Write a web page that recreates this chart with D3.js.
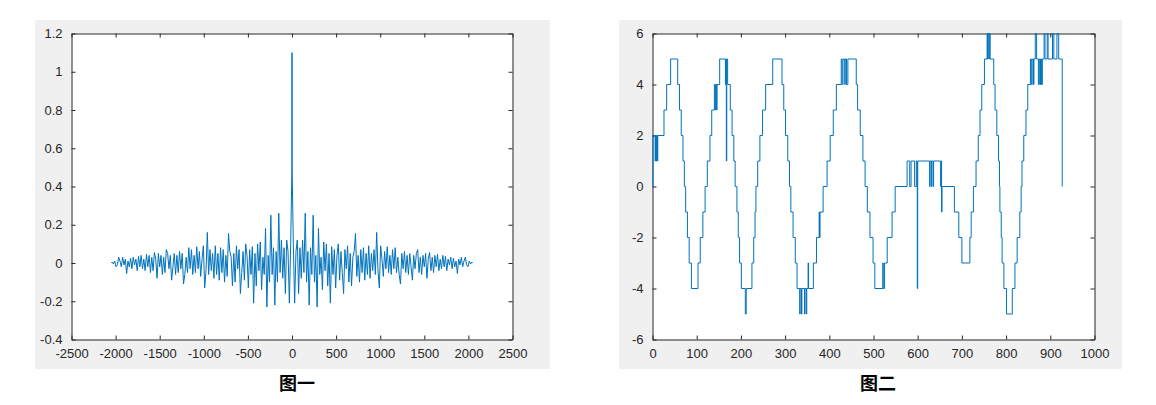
<!DOCTYPE html>
<html><head><meta charset="utf-8">
<script src="https://cdn.jsdelivr.net/npm/d3@7"></script>
<style>
body{margin:0;background:#fff;}
svg text{font-family:"Liberation Sans",Arial,sans-serif;}
</style>
</head><body>
<svg id="c" width="1156" height="405"></svg>
<script>
// ---------- Figure 1 data (autocorrelation, symmetric about lag 0) ----------
const corrStep = 15;          // lag spacing of corrPositive
const corrCenter = 1.1;       // value at lag 0
const corrNearLag = 1;
const corrNearValue = 0.5;
const corrEndLag = 2047;
const corrEndValue = 0.0;
const corrPositive = [
  0.10,-0.21,0.06,0.12,-0.16,0.08,-0.08,0.12,-0.05,0.26,
  -0.10,0.06,-0.22,0.08,-0.06,0.25,-0.10,0.04,-0.23,0.18,
  -0.06,0.03,-0.14,0.11,-0.04,0.10,-0.12,0.05,-0.21,0.085,
  -0.06,0.07,-0.13,0.04,0.10,-0.09,0.06,-0.05,-0.16,0.07,
  -0.03,0.09,-0.10,0.05,-0.12,0.03,0.06,0.155,-0.07,0.04,
  -0.10,0.07,-0.05,0.08,-0.09,0.05,-0.06,0.09,-0.08,0.05,
  -0.04,0.07,-0.06,0.16,-0.04,-0.13,0.09,0.02,-0.07,0.06,
  -0.03,0.085,-0.05,0.04,-0.06,0.07,-0.03,0.08,-0.05,0.03,
  -0.06,-0.11,0.05,-0.03,0.06,-0.05,0.04,-0.06,0.05,-0.02,
  -0.09,0.04,-0.03,0.05,0.07,-0.05,0.03,-0.06,0.04,-0.02,
  0.05,-0.08,0.02,0.055,-0.04,0.03,-0.05,0.04,-0.02,0.045,
  -0.04,0.02,-0.03,0.04,-0.02,0.035,-0.04,0.02,-0.01,0.03,
  -0.03,0.025,-0.02,0.01,-0.055,0.02,-0.01,0.03,-0.02,0.01,
  0.03,-0.01,-0.02,0.01,-0.005,0.005
];
const corrXTicks = [-2500,-2000,-1500,-1000,-500,0,500,1000,1500,2000,2500];
const corrYTicks = [-0.4,-0.2,0,0.2,0.4,0.6,0.8,1,1.2];
const title1 = "图一";

// ---------- Figure 2 data (step sequence: [start index, level]) ----------
const stepX = [0,1,6,7,8,9,11,12,26,32,41,57,61,65,69,72,75,79,83,88,103,108,114,119,124,130,134,140,142,143,145,146,152,165,166,167,168,170,176,180,184,187,191,194,197,201,210,212,225,229,232,234,238,243,249,256,272,293,297,301,306,310,313,318,323,327,333,334,337,338,344,345,348,349,352,353,364,371,377,378,379,386,395,402,409,416,427,429,431,435,436,439,442,461,464,470,476,481,486,492,499,503,521,522,525,531,542,549,576,582,585,593,597,599,600,627,628,631,632,635,636,652,653,654,655,683,693,700,718,721,726,732,737,741,745,751,757,758,759,761,762,764,772,775,779,783,785,786,789,791,795,801,814,820,825,831,834,836,840,845,849,855,857,859,862,863,866,869,873,875,877,878,880,882,886,888,893,895,905,908,915,919,927];
const stepY = [0,2,1,2,1,2,1,2,3,4,5,4,3,2,1,0,-1,-2,-3,-4,-3,-2,-1,0,1,2,3,4,3,4,3,4,5,4,5,1,5,4,3,2,1,0,-1,-2,-3,-4,-5,-4,-3,-2,-1,0,1,2,3,4,5,4,3,2,1,0,-1,-2,-3,-4,-5,-4,-5,-4,-5,-4,-5,-4,-3,-4,-3,-2,-1,-2,-1,0,1,2,3,4,5,4,5,4,5,4,5,4,3,2,1,0,-1,-2,-3,-4,-3,-4,-3,-2,-1,0,1,0,1,0,1,-4,1,0,1,0,1,0,1,0,1,-1,0,-1,-2,-3,-2,-1,0,1,2,3,4,5,6,5,6,5,6,5,4,3,2,1,0,-1,-2,-3,-4,-5,-4,-3,-2,-1,0,1,2,3,4,5,4,5,4,5,6,5,4,5,4,5,4,5,6,5,6,5,6,5,6,5,0];
const seqXTicks = [0,100,200,300,400,500,600,700,800,900,1000];
const seqYTicks = [-6,-4,-2,0,2,4,6];
const title2 = "图二";

// ---------- build point lists ----------
const posPts = [[corrNearLag, corrNearValue]].concat(corrPositive.map((v,i)=>[(i+1)*corrStep, v]));
posPts.push([corrEndLag, corrEndValue]);
const corrPts = posPts.slice().reverse().map(p=>[-p[0], p[1]]);
corrPts.push([0, corrCenter]);
posPts.forEach(p=>corrPts.push(p));
const seqPts = stepX.map((x,i)=>[x, stepY[i]]);

const svg = d3.select("#c");
const ink = "#262626";
const lineColor = "#0072BD";
const fmt = d => String(+d.toFixed(1)).replace("\u2212","-");

function panel(o){
  svg.append("rect").attr("x",o.bg[0]).attr("y",o.bg[1]).attr("width",o.bg[2]).attr("height",o.bg[3]).attr("fill","#f0f0f0");
  const x = d3.scaleLinear().domain(o.xDomain).range([o.left,o.right]);
  const y = d3.scaleLinear().domain(o.yDomain).range([o.bottom,o.top]);
  svg.append("rect").attr("x",o.left).attr("y",o.top).attr("width",o.right-o.left).attr("height",o.bottom-o.top).attr("fill","#fff");
  const g = svg.append("g");
  const tl = 4;
  const ax = [
    [d3.axisBottom(x).tickValues(o.xTicks).tickSizeInner(-tl).tickSizeOuter(0).tickPadding(9).tickFormat(fmt), `translate(0,${o.bottom})`],
    [d3.axisTop(x).tickValues(o.xTicks).tickSizeInner(-tl).tickSizeOuter(0).tickFormat(""), `translate(0,${o.top})`],
    [d3.axisLeft(y).tickValues(o.yTicks).tickSizeInner(-tl).tickSizeOuter(0).tickPadding(9).tickFormat(fmt), `translate(${o.left},0)`],
    [d3.axisRight(y).tickValues(o.yTicks).tickSizeInner(-tl).tickSizeOuter(0).tickFormat(""), `translate(${o.right},0)`]
  ];
  ax.forEach(([a,t])=>{
    const s = g.append("g").attr("transform",t).call(a);
    s.select(".domain").attr("stroke",ink).attr("stroke-width",1);
    s.selectAll(".tick line").attr("stroke",ink);
    s.selectAll(".tick text").attr("fill",ink).style("font-size","13px").style("font-family","'Liberation Sans',Arial,sans-serif");
  });
  const line = d3.line().x(d=>x(d[0])).y(d=>y(d[1])).curve(o.curve);
  svg.append("path").datum(o.data).attr("d",line).attr("fill","none").attr("stroke",lineColor).attr("stroke-width",1).attr("stroke-linejoin","round");
  svg.append("text").attr("x",o.titleX).attr("y",390).attr("text-anchor","middle")
    .style("font-family","'Noto Sans CJK SC',sans-serif").style("font-weight","bold").style("font-size","18px").attr("fill","#000").text(o.title);
}

panel({bg:[35,20,515,349], left:71.5, right:512.5, top:33.5, bottom:339.5,
  xDomain:[-2500,2500], yDomain:[-0.4,1.2], xTicks:corrXTicks, yTicks:corrYTicks,
  data:corrPts, curve:d3.curveLinear, title:title1, titleX:297});
panel({bg:[619,20,503,349], left:652.5, right:1094.5, top:33.5, bottom:339.5,
  xDomain:[0,1000], yDomain:[-6,6], xTicks:seqXTicks, yTicks:seqYTicks,
  data:seqPts, curve:d3.curveStepAfter, title:title2, titleX:878});
</script>
</body></html>
